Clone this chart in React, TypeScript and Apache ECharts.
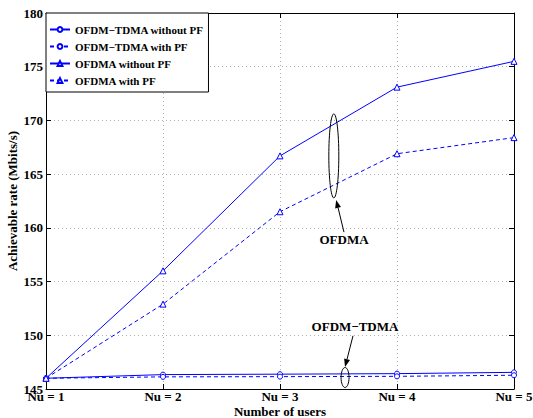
import React, { useEffect, useRef } from "react";
import * as echarts from "echarts";

const users = [1, 2, 3, 4, 5];
const tickLabels = ["Nu = 1", "Nu = 2", "Nu = 3", "Nu = 4", "Nu = 5"];
const seriesNames = [
  "OFDM−TDMA without PF",
  "OFDM−TDMA with PF",
  "OFDMA without PF",
  "OFDMA with PF",
];
const tdmaNoPF = [146.0, 146.34, 146.38, 146.43, 146.55];
const tdmaPF = [146.0, 146.13, 146.15, 146.18, 146.28];
const ofdmaNoPF = [146.0, 156.0, 166.7, 173.1, 175.5];
const ofdmaPF = [146.0, 152.9, 161.5, 166.9, 168.4];

const FONT = "Liberation Serif";
const BLUE = "#0000ff";
const FS = 13;

export default function App() {
  const ref = useRef<HTMLDivElement>(null);
  useEffect(() => {
    if (!ref.current) return;
    const chart = echarts.init(ref.current, undefined, { renderer: "svg" });
    const mk = (name: string, vals: number[], dashed: boolean, sym: string, size: number) => ({
      name,
      type: "line",
      data: vals.map((v, i) => [users[i], v]),
      symbol: sym,
      symbolSize: size,
      showAllSymbol: true,
      lineStyle: { color: BLUE, width: 1, type: dashed ? [4, 3] : "solid" },
      itemStyle: { color: "#ffffff", borderColor: BLUE, borderWidth: 1 },
      emphasis: { disabled: true },
    });
    const axisCommon = {
      axisLine: { show: true, onZero: false, lineStyle: { color: "#000", width: 1 } },
      axisTick: { show: true, inside: true, length: 5, lineStyle: { color: "#000" } },
    };
    const txt = { fontFamily: FONT, fontWeight: "bold" as const, fontSize: FS, color: "#000" };
    chart.setOption({
      animation: false,
      backgroundColor: "#ffffff",
      textStyle: { fontFamily: FONT },
      grid: { left: 46, right: 19, top: 13, bottom: 29, outerBoundsMode: "none", containLabel: false },
      legend: {
        left: 46,
        top: 13,
        orient: "vertical",
        data: seriesNames,
        itemWidth: 20,
        itemHeight: 6,
        itemGap: 6,
        itemTextGap: 3,
        padding: [11, 5, 6, 3],
        borderColor: "#000",
        borderWidth: 1,
        borderRadius: 0,
        backgroundColor: "#ffffff",
        textStyle: { fontFamily: FONT, fontWeight: "bold", fontSize: 11, color: "#000" },
      },
      xAxis: [
        {
          type: "value",
          min: 1,
          max: 5,
          interval: 1,
          ...axisCommon,
          axisLabel: {
            ...txt,
            margin: 1,
            formatter: (v: number) => tickLabels[users.indexOf(v)] ?? "",
          },
          splitLine: { show: true, lineStyle: { color: "#b0b0b0", type: [1, 3], width: 1 } },
        },
        {
          type: "value",
          position: "top",
          min: 1,
          max: 5,
          interval: 1,
          ...axisCommon,
          axisLabel: { show: false },
          splitLine: { show: false },
        },
      ],
      yAxis: [
        {
          type: "value",
          min: 145,
          max: 180,
          interval: 5,
          ...axisCommon,
          axisLabel: { ...txt, margin: 3 },
          splitLine: { show: true, lineStyle: { color: "#b0b0b0", type: [1, 3], width: 1 } },
        },
        {
          type: "value",
          position: "right",
          min: 145,
          max: 180,
          interval: 5,
          ...axisCommon,
          axisLabel: { show: false },
          splitLine: { show: false },
        },
      ],
      series: [
        mk(seriesNames[0], tdmaNoPF, false, "circle", 5),
        mk(seriesNames[1], tdmaPF, true, "circle", 5),
        mk(seriesNames[2], ofdmaNoPF, false, "triangle", 6),
        mk(seriesNames[3], ofdmaPF, true, "triangle", 6),
      ],
    });

    const px = (x: number, y: number) => chart.convertToPixel({ gridIndex: 0 }, [x, y]) as number[];
    const arrow = (from: number[], to: number[]) => {
      const dx = to[0] - from[0];
      const dy = to[1] - from[1];
      const len = Math.hypot(dx, dy);
      const ux = dx / len;
      const uy = dy / len;
      const hl = 8;
      const hw = 3;
      const bx = to[0] - ux * hl;
      const by = to[1] - uy * hl;
      return [
        { type: "line", shape: { x1: from[0], y1: from[1], x2: bx, y2: by }, style: { stroke: "#000", lineWidth: 1 } },
        {
          type: "polygon",
          shape: {
            points: [
              [to[0], to[1]],
              [bx - uy * hw, by + ux * hw],
              [bx + uy * hw, by - ux * hw],
            ],
          },
          style: { fill: "#000" },
        },
      ];
    };
    const e1 = px(3.46, 166.7);
    const e2 = px(3.556, 146.07);
    const t1 = px(3.547, 158.9);
    const t2 = px(3.641, 150.8);
    const ax1 = px(3.547, 159.6);
    const tip1 = px(3.48, 162.6);
    const ax2 = px(3.624, 149.95);
    const tip2 = px(3.556, 147.05);
    const bottomY = px(1, 145)[1];
    const midY = (px(1, 145)[1] + px(1, 180)[1]) / 2;
    const midX = (px(1, 145)[0] + px(5, 145)[0]) / 2;
    const tstyle = (text: string) => ({
      text,
      fontFamily: FONT,
      fontWeight: "bold",
      fontSize: FS,
      fill: "#000",
      align: "center",
      verticalAlign: "middle",
    });
    chart.setOption({
      graphic: [
        { type: "ellipse", shape: { cx: e1[0], cy: e1[1], rx: 5, ry: 42 }, style: { fill: "none", stroke: "#000", lineWidth: 1 }, z: 100 },
        { type: "ellipse", shape: { cx: e2[0], cy: e2[1], rx: 4, ry: 10 }, style: { fill: "none", stroke: "#000", lineWidth: 1 }, z: 100 },
        ...arrow(ax1, tip1).map((g) => ({ ...g, z: 100 })),
        ...arrow(ax2, tip2).map((g) => ({ ...g, z: 100 })),
        { type: "text", x: t1[0], y: t1[1], z: 100, style: tstyle("OFDMA") },
        { type: "text", x: t2[0], y: t2[1], z: 100, style: tstyle("OFDM−TDMA") },
        { type: "text", x: midX, y: bottomY + 22, z: 100, style: tstyle("Number of users") },
        { type: "text", x: 12, y: midY, rotation: Math.PI / 2, z: 100, style: tstyle("Achievable rate (Mbits/s)") },
      ],
    });
    return () => chart.dispose();
  }, []);
  return <div ref={ref} style={{ width: 533, height: 418, position: "absolute", left: 0, top: 0 }} />;
}
